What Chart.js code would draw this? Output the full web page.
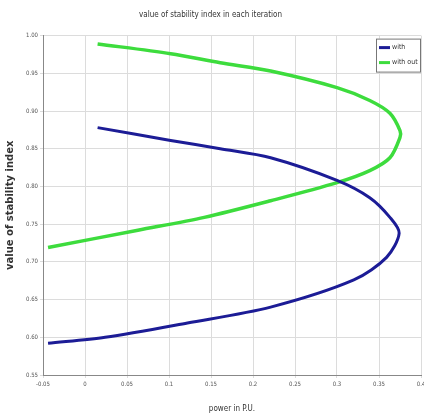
<!DOCTYPE html>
<html lang="en">
<head>
    <meta charset="UTF-8">
    <title>value of stability index in each iteration</title>
    <script src="https://cdn.jsdelivr.net/npm/chart.js"></script>
    <style>
        * { margin: 0; padding: 0; box-sizing: border-box; }
        body { background: #fff; width: 424px; height: 418px; overflow: hidden; }
        .chart-box { position: relative; width: 424px; height: 418px; }
    </style>
</head>
<body>
    <div class="chart-box">
        <canvas id="myChart"></canvas>
    </div>

    <script>
        // Data (power in P.U. vs stability index)
        const seriesNames = ['with', 'with out'];
        const withX = [0.015, 0.102, 0.161, 0.221, 0.300, 0.339, 0.363, 0.374, 0.359, 0.320, 0.221, 0.122, 0.024, -0.044];
        const withY = [0.878, 0.861, 0.850, 0.838, 0.808, 0.785, 0.759, 0.738, 0.706, 0.676, 0.640, 0.619, 0.600, 0.592];
        const withoutX = [0.015, 0.102, 0.161, 0.221, 0.300, 0.339, 0.363, 0.375, 0.375, 0.363, 0.339, 0.300, 0.221, 0.142, 0.063, -0.044];
        const withoutY = [0.989, 0.976, 0.964, 0.953, 0.931, 0.914, 0.897, 0.874, 0.865, 0.838, 0.821, 0.805, 0.781, 0.759, 0.742, 0.719];
        const xTicks = [-0.05, 0, 0.05, 0.1, 0.15, 0.2, 0.25, 0.3, 0.35, 0.4];
        const yTicks = [0.55, 0.6, 0.65, 0.7, 0.75, 0.8, 0.85, 0.9, 0.95, 1.0];

        const colors = ['#1c1c96', '#3ddc3d'];

        function toPoints(xs, ys) {
            return xs.map((x, i) => ({ x: x, y: ys[i] }));
        }

        // legend box drawn inside the plot, top right like the original
        const boxLegend = {
            id: 'boxLegend',
            afterDraw(chart) {
                const c = chart.ctx;
                const a = chart.chartArea;
                const w = 44, h = 33;
                const x0 = a.right - w - 1, y0 = a.top + 3;
                c.save();
                c.fillStyle = '#fff';
                c.fillRect(x0, y0, w, h);
                c.strokeStyle = '#777';
                c.lineWidth = 1;
                c.strokeRect(x0 + 0.5, y0 + 0.5, w, h);
                c.font = '7px "Liberation Sans Narrow", "DejaVu Sans Condensed", sans-serif';
                c.textBaseline = 'middle';
                seriesNames.forEach((name, i) => {
                    const yy = y0 + 9 + i * 15;
                    c.strokeStyle = colors[i];
                    c.lineWidth = 3;
                    c.beginPath();
                    c.moveTo(x0 + 3, yy);
                    c.lineTo(x0 + 14, yy);
                    c.stroke();
                    c.fillStyle = '#333';
                    c.fillText(name, x0 + 16, yy);
                });
                c.restore();
            }
        };

        const ctx = document.getElementById('myChart').getContext('2d');
        const tickFont = { size: 6, family: '"Liberation Sans Narrow", "DejaVu Sans Condensed", sans-serif' };

        new Chart(ctx, {
            type: 'line',
            data: {
                datasets: [
                    {
                        label: seriesNames[0],
                        data: toPoints(withX, withY),
                        borderColor: colors[0],
                        borderWidth: 3,
                        pointRadius: 0,
                        tension: 0.3,
                        fill: false
                    },
                    {
                        label: seriesNames[1],
                        data: toPoints(withoutX, withoutY),
                        borderColor: colors[1],
                        borderWidth: 3.5,
                        pointRadius: 0,
                        tension: 0.3,
                        fill: false
                    }
                ]
            },
            options: {
                responsive: true,
                maintainAspectRatio: false,
                animation: false,
                layout: { padding: { left: 0, right: 3, top: 0, bottom: 0 } },
                plugins: {
                    legend: { display: false },
                    tooltip: { enabled: false },
                    title: {
                        display: true,
                        text: 'value of stability index in each iteration',
                        color: '#333',
                        font: { size: 8, weight: 'normal', family: '"Liberation Sans Narrow", "DejaVu Sans Condensed", sans-serif' },
                        padding: { top: 10, bottom: 16 }
                    }
                },
                scales: {
                    x: {
                        type: 'linear',
                        min: -0.05,
                        max: 0.4,
                        afterBuildTicks: s => { s.ticks = xTicks.map(v => ({ value: v })); },
                        afterFit: s => { s.height = 43; s.paddingRight = 0; s.paddingLeft = 0; },
                        ticks: {
                            color: '#555',
                            font: tickFont,
                            maxRotation: 0,
                            autoSkip: false,
                            padding: 3,
                            callback: v => String(Math.round(v * 100) / 100)
                        },
                        grid: { color: '#dcdcdc', lineWidth: 1, tickLength: 3 },
                        border: { color: '#888' },
                        title: {
                            display: true,
                            text: 'power in P.U.',
                            color: '#333',
                            font: { size: 8, family: '"Liberation Sans Narrow", "DejaVu Sans Condensed", sans-serif' },
                            padding: { top: 6 }
                        }
                    },
                    y: {
                        type: 'linear',
                        min: 0.55,
                        max: 1.0,
                        afterBuildTicks: s => { s.ticks = yTicks.map(v => ({ value: v })); },
                        afterFit: s => { s.width = 43; },
                        ticks: {
                            color: '#555',
                            font: tickFont,
                            autoSkip: false,
                            padding: 2,
                            callback: v => v.toFixed(2)
                        },
                        grid: { color: '#dcdcdc', lineWidth: 1, tickLength: 3 },
                        border: { color: '#888' },
                        title: {
                            display: true,
                            text: 'value of stability index',
                            color: '#333',
                            font: { size: 10, weight: 'bold', family: '"DejaVu Sans", sans-serif' },
                            padding: { bottom: 1 }
                        }
                    }
                }
            },
            plugins: [boxLegend]
        });
    </script>
</body>
</html>
